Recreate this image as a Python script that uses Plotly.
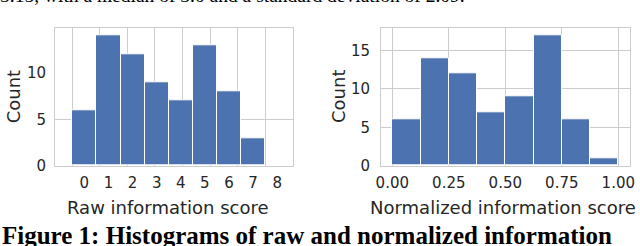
import plotly.graph_objects as go

# ---- data ----
raw_scores = [0, 1, 2, 3, 4, 5, 6, 7]
raw_counts = [6, 14, 12, 9, 7, 13, 8, 3]
raw_tick_labels = ["0", "1", "2", "3", "4", "5", "6", "7", "8"]

norm_bin_centers = [0.0625, 0.1875, 0.3125, 0.4375, 0.5625, 0.6875, 0.8125, 0.9375]
norm_counts = [6, 14, 12, 7, 9, 17, 6, 1]
norm_ticks = [0.0, 0.25, 0.5, 0.75, 1.0]
norm_tick_labels = ["0.00", "0.25", "0.50", "0.75", "1.00"]

top_text = "3.15, with a median of 3.0 and a standard deviation of 2.09."
caption = "Figure 1: Histograms of raw and normalized information"

W, H = 640, 246
BAR = "#4c72b0"
GRID = "#cccccc"
TXT = "#262626"

def px(x):
    return x / W

def py(y):
    return 1 - y / H

fig = go.Figure()
fig.add_trace(go.Bar(x=raw_scores, y=raw_counts, width=1, marker=dict(color=BAR, line=dict(color="white", width=1)),
                     xaxis="x", yaxis="y", showlegend=False, hoverinfo="skip"))
fig.add_trace(go.Bar(x=norm_bin_centers, y=norm_counts, width=0.125, marker=dict(color=BAR, line=dict(color="white", width=1)),
                     xaxis="x2", yaxis="y2", showlegend=False, hoverinfo="skip"))

tickfont = dict(family="DejaVu Sans", size=15, color=TXT)
ydom = [py(165.7), py(28.3)]
left_grid = [-0.5 + k * 8 / 7 for k in range(8)]

common_axis = dict(showline=True, mirror=True, linecolor=GRID, linewidth=1, zeroline=False, automargin=False,
                   tickfont=tickfont, ticks="outside", tickcolor="rgba(0,0,0,0)")

fig.update_layout(
    width=W, height=H, margin=dict(l=0, r=0, t=0, b=0),
    plot_bgcolor="white", paper_bgcolor="white", bargap=0,
    xaxis=dict(domain=[px(55), px(293)], range=[-1.218, 8.655], anchor="y",
               tickvals=list(range(len(raw_tick_labels))), ticktext=raw_tick_labels,
               showgrid=False, ticklen=3,
               minor=dict(tickvals=left_grid, showgrid=True, gridcolor=GRID, gridwidth=1, ticks=""),
               **common_axis),
    yaxis=dict(domain=ydom, range=[0, 14.8], anchor="x",
               tickvals=[0, 5, 10], showgrid=False, ticklen=5,
               minor=dict(tickvals=[5], showgrid=True, gridcolor=GRID, gridwidth=1, ticks=""),
               **common_axis),
    xaxis2=dict(domain=[px(381), px(630.3)], range=[-0.05, 1.053], anchor="y2",
                tickvals=norm_ticks, ticktext=norm_tick_labels,
                showgrid=True, gridcolor=GRID, gridwidth=1, ticklen=3, **common_axis),
    yaxis2=dict(domain=ydom, range=[0, 17.9], anchor="x2",
                tickvals=[0, 5, 10, 15], showgrid=True, gridcolor=GRID, gridwidth=1, ticklen=7, **common_axis),
)

labfont = dict(family="DejaVu Sans", size=18, color=TXT)
ann = [
    dict(text="Count", x=px(13.3), y=py(97), textangle=-90, font=labfont),
    dict(text="Count", x=px(338), y=py(97), textangle=-90, font=labfont),
    dict(text="Raw information score", x=px(168.3), y=py(207), font=labfont),
    dict(text="Normalized information score", x=px(368.3), xanchor="left", y=py(207), font=labfont),
    dict(text=top_text, x=px(-2), xanchor="left", y=py(-5), font=dict(family="Liberation Serif", size=19.5, color="black")),
    dict(text="<b>" + caption + "</b>", x=px(0), xanchor="left", y=py(235.5), font=dict(family="Liberation Serif", size=25, color="black")),
]
for a in ann:
    a.setdefault("xanchor", "center")
    a.setdefault("yanchor", "middle")
    a.update(xref="paper", yref="paper", showarrow=False)
fig.update_layout(annotations=ann)

fig.write_html("out.html", config={"displayModeBar": False},
               post_script="document.body.style.margin='0';document.body.style.overflow='hidden';")
